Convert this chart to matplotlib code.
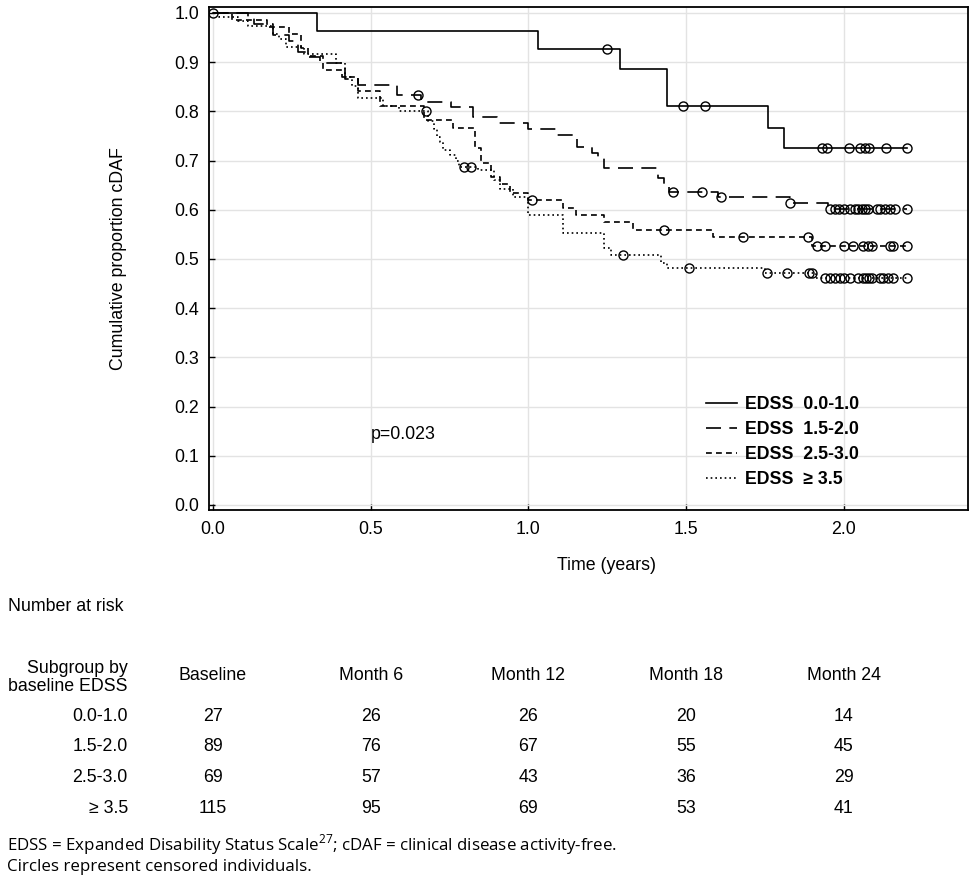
import numpy as np
import matplotlib
matplotlib.use("Agg")
import matplotlib.pyplot as plt
import matplotlib.transforms as mtransforms

plt.rcParams['font.family'] = ['Liberation Sans', 'DejaVu Sans']
plt.rcParams['mathtext.fontset'] = 'custom'
plt.rcParams['mathtext.rm'] = 'Open Sans'

# Kaplan-Meier steps (time in years, proportion cDAF)
t_end = 2.20

t_a = [0, 0.33, 1.03, 1.29, 1.44, 1.76, 1.81]
s_a = [1.0, 0.963, 0.926, 0.887, 0.810, 0.767, 0.725]
c_a = [0.0, 1.25, 1.49, 1.56, 1.93, 1.945, 2.016, 2.05, 2.065, 2.08, 2.133, 2.20]

t_b = [0, 0.11, 0.13, 0.19, 0.24, 0.27, 0.30, 0.34, 0.42, 0.46, 0.583, 0.66,
       0.754, 0.824, 0.90, 1.00, 1.09, 1.154, 1.20, 1.22, 1.24, 1.41, 1.43,
       1.445, 1.60, 1.83, 1.95]
s_b = [1.0, 0.989, 0.978, 0.955, 0.944, 0.921, 0.910, 0.899, 0.865, 0.854,
       0.833, 0.819, 0.809, 0.789, 0.776, 0.764, 0.752, 0.728, 0.716, 0.705,
       0.685, 0.665, 0.652, 0.637, 0.626, 0.614, 0.602]
c_b = [0.65, 1.458, 1.55, 1.61, 1.83, 1.956, 1.97, 1.985, 2.0, 2.02, 2.035,
       2.045, 2.057, 2.067, 2.076, 2.105, 2.115, 2.13, 2.146, 2.162, 2.20]

t_c = [0, 0.06, 0.17, 0.24, 0.28, 0.30, 0.35, 0.41, 0.46, 0.53, 0.67, 0.76,
       0.83, 0.85, 0.88, 0.91, 0.94, 1.00, 1.11, 1.15, 1.24, 1.33, 1.585, 1.90]
s_c = [1.0, 0.986, 0.971, 0.957, 0.928, 0.913, 0.884, 0.870, 0.841, 0.811,
       0.783, 0.766, 0.725, 0.696, 0.667, 0.652, 0.634, 0.620, 0.604, 0.589,
       0.575, 0.559, 0.545, 0.527]
c_c = [1.01, 1.43, 1.68, 1.886, 1.915, 1.94, 2.0, 2.03, 2.06, 2.075, 2.09,
       2.145, 2.155, 2.20]

t_d = [0, 0.02, 0.08, 0.11, 0.19, 0.21, 0.23, 0.29, 0.39, 0.42, 0.44, 0.46,
       0.54, 0.59, 0.68, 0.70, 0.71, 0.72, 0.73, 0.75, 0.77, 0.78, 0.84, 0.89,
       0.91, 0.95, 1.00, 1.11, 1.24, 1.26, 1.42, 1.44, 1.75, 1.91]
s_d = [1.0, 0.991, 0.983, 0.974, 0.957, 0.948, 0.930, 0.917, 0.898, 0.870,
       0.852, 0.827, 0.810, 0.800, 0.780, 0.765, 0.748, 0.738, 0.722, 0.712,
       0.700, 0.687, 0.681, 0.660, 0.643, 0.625, 0.590, 0.553, 0.522, 0.508,
       0.492, 0.482, 0.472, 0.462]
c_d = [0.675, 0.796, 0.818, 1.30, 1.51, 1.756, 1.82, 1.89, 1.90, 1.94, 1.955,
       1.97, 1.987, 2.0, 2.02, 2.045, 2.06, 2.07, 2.08, 2.09, 2.115, 2.125,
       2.14, 2.155, 2.20]

grp_labels = ['0.0-1.0', '1.5-2.0', '2.5-3.0', '\u2265 3.5']
p_text = 'p=0.023'

# number at risk table
risk_cols = ['Baseline', 'Month 6', 'Month 12', 'Month 18', 'Month 24']
risk_years = [0.0, 0.5, 1.0, 1.5, 2.0]
risk_a = [27, 26, 26, 20, 14]
risk_b = [89, 76, 67, 55, 45]
risk_c = [69, 57, 43, 36, 29]
risk_d = [115, 95, 69, 53, 41]

curves = [(t_a, s_a, c_a, risk_a), (t_b, s_b, c_b, risk_b),
          (t_c, s_c, c_c, risk_c), (t_d, s_d, c_d, risk_d)]
dash_styles = ['-', (0, (9, 5)), (0, (3.5, 2.5)), (0, (1, 1.8))]

fig = plt.figure(figsize=(9.76, 8.82), dpi=100)
ax = fig.add_axes([0.2141, 0.4218, 0.7777, 0.5703])

handles = []
for (tt, ss, cc, _), ls in zip(curves, dash_styles):
    xs = list(tt) + [t_end]
    ys = list(ss) + [ss[-1]]
    ln, = ax.step(xs, ys, where='post', color='black', lw=1.2, linestyle=ls)
    handles.append(ln)
    idx = np.searchsorted(tt, cc, side='right') - 1
    cy = np.array(ss)[idx]
    ax.plot(cc, cy, linestyle='none', marker='o', ms=6.5, mfc='none',
            mec='black', mew=1.0)

ax.set_xlim(-0.0127, 2.393)
ax.set_ylim(-0.0102, 1.0122)
ax.set_xticks(np.arange(0, 2.01, 0.5))
ax.set_yticks(np.arange(0, 1.001, 0.1))
ax.xaxis.set_major_formatter(matplotlib.ticker.FormatStrFormatter('%.1f'))
ax.yaxis.set_major_formatter(matplotlib.ticker.FormatStrFormatter('%.1f'))
ax.tick_params(direction='in', length=4, width=1, labelsize=12.8, pad=8)
ax.tick_params(axis='y', pad=7)
ax.grid(True, color='#e3e3e3', lw=1)
ax.set_axisbelow(True)
for sp in ax.spines.values():
    sp.set_linewidth(1.3)

ax.set_ylabel('Cumulative proportion cDAF', fontsize=12.8)
ax.yaxis.set_label_coords(-0.108, 0.5)
ax.set_xlabel('Time (years)', fontsize=12.8)
ax.xaxis.set_label_coords(0.524, -0.093)

ax.text(0.5, 0.144, p_text, fontsize=12.8, ha='left', va='center')

ax.legend(handles, ['EDSS  ' + g for g in grp_labels], loc='upper left',
          bbox_to_anchor=(0.655, 0.226), frameon=False, borderpad=0,
          borderaxespad=0, handlelength=1.75, handletextpad=0.45,
          labelspacing=0.44, prop={'weight': 'bold', 'size': 12.8})

# table below the plot
blend = mtransforms.blended_transform_factory(ax.transData, fig.transFigure)
fig.text(0.0082, 0.3118, 'Number at risk', fontsize=12.8, va='center')
fig.text(0.131, 0.2426, 'Subgroup by', fontsize=12.8, ha='right', va='center')
fig.text(0.131, 0.2211, 'baseline EDSS', fontsize=12.8, ha='right', va='center')
for x, name in zip(risk_years, risk_cols):
    fig.text(x, 0.2336, name, fontsize=12.8, ha='center', va='center',
             transform=blend)
row_y = [0.1882, 0.1531, 0.1190, 0.0839]
for y, g, (_, _, _, risk) in zip(row_y, grp_labels, curves):
    fig.text(0.131, y, g, fontsize=12.8, ha='right', va='center')
    for x, n in zip(risk_years, risk):
        fig.text(x, y, str(n), fontsize=12.8, ha='center', va='center',
                 transform=blend)

fig.text(0.0072, 0.0420,
         'EDSS = Expanded Disability Status Scale$^{27}$; cDAF = clinical disease activity-free.',
         fontsize=12.2, va='center', family='Open Sans')
fig.text(0.0072, 0.0170, 'Circles represent censored individuals.',
         fontsize=12.2, va='center', family='Open Sans')

fig.savefig('out.png', dpi=100)
